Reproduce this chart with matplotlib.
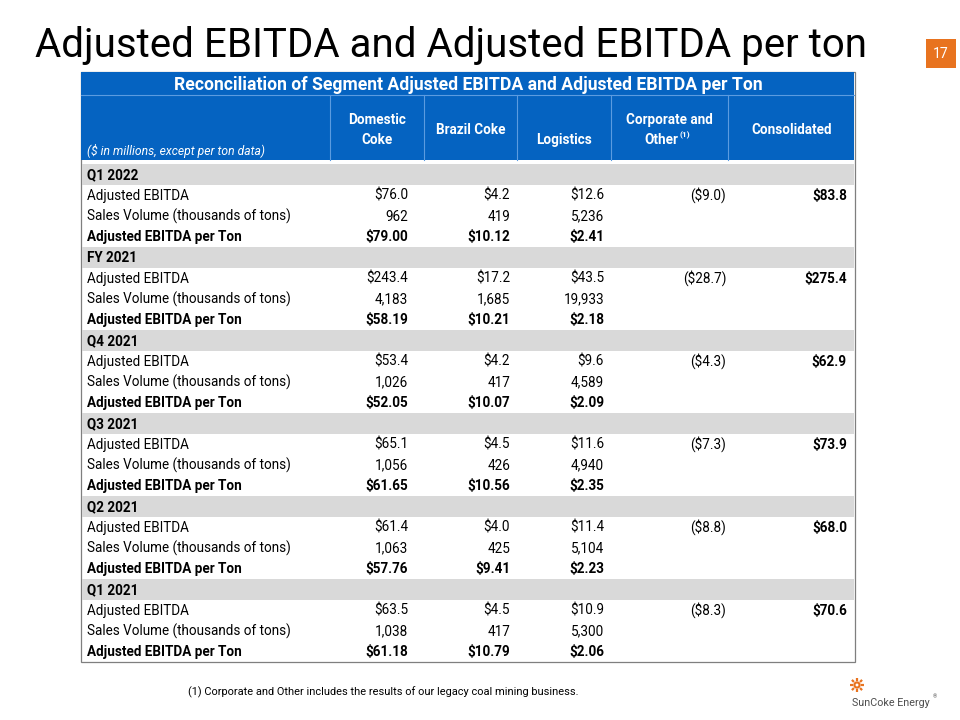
import math
import matplotlib
matplotlib.use("Agg")
import matplotlib.pyplot as plt
from matplotlib.patches import Rectangle, Circle

# ---------------- data ----------------
periods = ["Q1 2022", "FY 2021", "Q4 2021", "Q3 2021", "Q2 2021", "Q1 2021"]
row_labels = ["Adjusted EBITDA", "Sales Volume (thousands of tons)", "Adjusted EBITDA per Ton"]
col_labels = ["Domestic\nCoke", "Brazil Coke", "Logistics", "Corporate and\nOther", "Consolidated"]

adj_ebitda = [
    [76.0, 4.2, 12.6, -9.0, 83.8],
    [243.4, 17.2, 43.5, -28.7, 275.4],
    [53.4, 4.2, 9.6, -4.3, 62.9],
    [65.1, 4.5, 11.6, -7.3, 73.9],
    [61.4, 4.0, 11.4, -8.8, 68.0],
    [63.5, 4.5, 10.9, -8.3, 70.6],
]
sales_volume = [
    [962, 419, 5236],
    [4183, 1685, 19933],
    [1026, 417, 4589],
    [1056, 426, 4940],
    [1063, 425, 5104],
    [1038, 417, 5300],
]
ebitda_per_ton = [
    [79.00, 10.12, 2.41],
    [58.19, 10.21, 2.18],
    [52.05, 10.07, 2.09],
    [61.65, 10.56, 2.35],
    [57.76, 9.41, 2.23],
    [61.18, 10.79, 2.06],
]

title = "Adjusted EBITDA and Adjusted EBITDA per ton"
table_title = "Reconciliation of Segment Adjusted EBITDA and Adjusted EBITDA per Ton"
units_note = "($ in millions, except per ton data)"
footnote = "(1) Corporate and Other includes the results of our legacy coal mining business."
page_no = "17"

# ---------------- style ----------------
FONT = "Roboto"
BLUE = "#0563C1"
GREY = "#D9D9D9"
ORANGE = "#E8731F"

fig = plt.figure(figsize=(9.6, 7.2), dpi=100)
ax = fig.add_axes([0, 0, 1, 1])
ax.set_xlim(0, 960)
ax.set_ylim(720, 0)
ax.axis("off")
renderer = fig.canvas.get_renderer()

PX = 72 / 100.0  # points per pixel


def fit_size(txt, target_w, **kw):
    t = ax.text(0, 0, txt, fontsize=10, family=FONT, **kw)
    w = t.get_window_extent(renderer).width
    t.remove()
    return 10 * target_w / w


def fmt_money(v, nd):
    s = f"${abs(v):,.{nd}f}"
    return f"({s})" if v < 0 else s


def btext(x, yc, s, fs, **kw):
    """place text with its baseline so that caps are centred on yc"""
    px = fs / PX
    ax.text(x, yc + 0.355 * px, s, fontsize=fs, family=FONT, va="baseline", **kw)


# page title
ts = fit_size(title, 815) * 1.02
ax.text(35, 57, title, fontsize=ts, family=FONT, va="baseline", ha="left", color="black")

# page number box
ax.add_patch(Rectangle((926, 39), 30, 29, facecolor=ORANGE, edgecolor="none"))
btext(941, 53.5, page_no, 14 * PX, color="white", ha="center")

# table geometry
L, R = 81, 855
col_edges = [330, 424, 517, 611, 728, 855]
val_right = [408, 510, 604, 726, 847]
top_blue, title_sep, head_bot = 72, 95, 160
rows_top, rows_bot = 164, 662
n_rows = len(periods) * 4
rh = (rows_bot - rows_top) / n_rows

# border
ax.add_patch(Rectangle((L, top_blue), R - L, rows_bot - top_blue, facecolor="white",
                       edgecolor="#7F7F7F", lw=0.9))
# blue header
ax.add_patch(Rectangle((L, top_blue), R - L - 1, head_bot - top_blue, facecolor=BLUE, edgecolor="none"))
ax.plot([L, R - 1], [title_sep, title_sep], color="#5B9BE0", lw=0.8)
for xe in col_edges[:-1]:
    ax.plot([xe, xe], [title_sep, head_bot], color="#5B9BE0", lw=0.8)

body_fs = fit_size("Sales Volume (thousands of tons)", 193) * 1.06

tts = fit_size(table_title, 578, fontweight="bold") * 1.02
btext((L + R) / 2, 84, table_title, tts, fontweight="bold", color="white", ha="center")

centers = [(col_edges[i] + col_edges[i + 1]) / 2 for i in range(5)]
head_y = [129, 129, 139, 129, 129]
for i, lab in enumerate(col_labels):
    cx = centers[i]
    lines = lab.split("\n")
    if len(lines) == 2:
        ys = [119, 139]
    else:
        ys = [head_y[i]]
    for j, (ln, yy) in enumerate(zip(lines, ys)):
        if i == 3 and j == 1:
            btext(cx + 9, yy, ln, body_fs, fontweight="bold", color="white", ha="right")
            btext(cx + 10, yy - 5, "(1)", body_fs * 0.62, fontweight="bold", color="white", ha="left")
        else:
            btext(cx, yy, ln, body_fs, fontweight="bold", color="white", ha="center")
btext(87, 151, units_note, body_fs * 0.9, style="italic", color="white", ha="left")

# body rows
for p, per in enumerate(periods):
    base = rows_top + p * 4 * rh
    ax.add_patch(Rectangle((L + 1, base), R - L - 2, rh, facecolor=GREY, edgecolor="none"))
    btext(87, base + rh / 2, per, body_fs, fontweight="bold", ha="left")
    for r, lab in enumerate(row_labels):
        y = base + (r + 1) * rh + rh / 2
        bold = (r == 2)
        btext(87, y, lab, body_fs, fontweight="bold" if bold else "normal", ha="left")
        if r == 0:
            vals = [fmt_money(v, 1) for v in adj_ebitda[p]]
        elif r == 1:
            vals = [f"{v:,}" for v in sales_volume[p]]
        else:
            vals = [fmt_money(v, 2) for v in ebitda_per_ton[p]]
        for c, s in enumerate(vals):
            b = bold or (r == 0 and c == 4)
            btext(val_right[c], y, s, body_fs, fontweight="bold" if b else "normal", ha="right")

# footnote
fs_fn = fit_size(footnote, 375) * 1.04
btext(188, 692, footnote, fs_fn, ha="left")

# logo
cxl, cyl = 857, 685
ax.add_patch(Circle((cxl, cyl), 2.6, facecolor="none", edgecolor=ORANGE, lw=1.6))
for k in range(8):
    a = k * math.pi / 4
    ax.plot([cxl + 4.3 * math.cos(a), cxl + 7.2 * math.cos(a)],
            [cyl + 4.3 * math.sin(a), cyl + 7.2 * math.sin(a)], color=ORANGE, lw=1.6,
            solid_capstyle="butt")
lfs = fit_size("SunCoke Energy", 78)
btext(852, 702, "SunCoke Energy", lfs, color="#4D4D4D", ha="left")
btext(933, 696, "®", lfs * 0.5, color="#4D4D4D", ha="left")

fig.savefig("out.png", dpi=100)
